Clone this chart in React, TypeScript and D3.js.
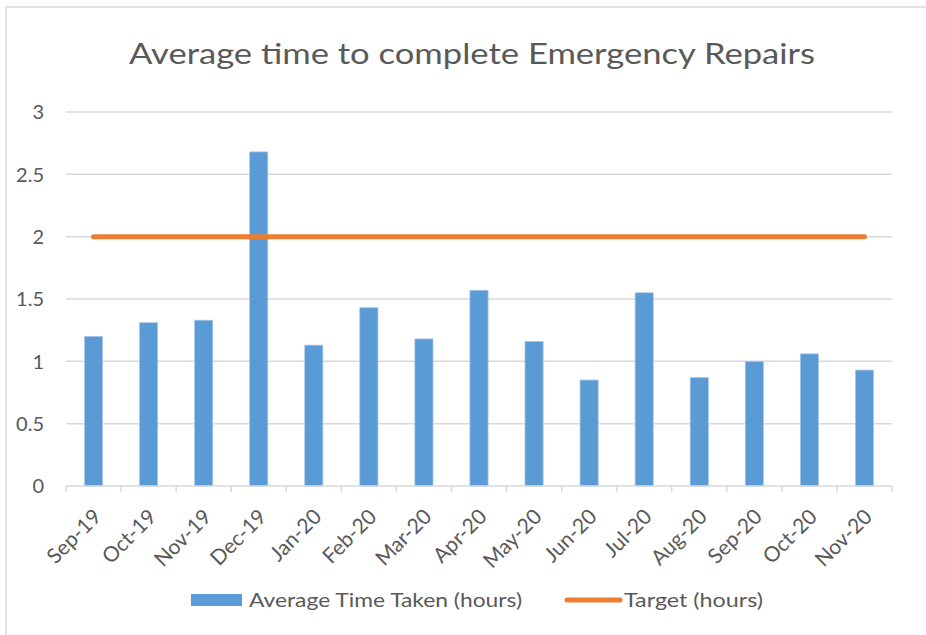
import React from "react";
import * as d3 from "d3";

const months = ["Sep-19","Oct-19","Nov-19","Dec-19","Jan-20","Feb-20","Mar-20","Apr-20","May-20","Jun-20","Jul-20","Aug-20","Sep-20","Oct-20","Nov-20"];
const avgTime = [1.2,1.31,1.33,2.68,1.13,1.43,1.18,1.57,1.16,0.85,1.55,0.87,1.0,1.06,0.93];
const target = [2,2,2,2,2,2,2,2,2,2,2,2,2,2,2];
const yTicks = [0,0.5,1,1.5,2,2.5,3];

const W = 926, H = 635;
const left = 66, right = 892, top = 112, bottom = 486;
const FONT = "Lato, 'Open Sans', sans-serif";
const TXT = "#595959";
const GRID = "#D9D9D9";

export default function App() {
  const x = d3.scaleBand<string>().domain(months).range([left, right]).paddingInner(0.67).paddingOuter(0.335);
  const xb = d3.scaleBand<string>().domain(months).range([left, right]);
  const y = d3.scaleLinear().domain([0, 3]).range([bottom, top]);
  const line = d3.line<number>()
    .x((_, i) => (xb(months[i]) as number) + xb.bandwidth() / 2)
    .y((d) => y(d));
  const ticksX = months.map((m) => xb(m) as number).concat([right]);

  return (
    <svg width={W} height={H} style={{ position: "absolute", left: 0, top: 0, background: "#fff" }}>
      <rect x={6} y={7} width={1000} height={1000} fill="#fff" stroke={GRID} strokeWidth={1.5} />
      <text x={472} y={64} textAnchor="middle" fontFamily={FONT} fontSize={29} fill={TXT} textLength={686} lengthAdjust="spacingAndGlyphs">
        Average time to complete Emergency Repairs
      </text>
      {yTicks.map((t) => (
        <g key={t}>
          {t > 0 && <line x1={left} x2={right} y1={y(t)} y2={y(t)} stroke={GRID} strokeWidth={1.5} />}
          <text x={44} y={y(t)} dy="0.36em" textAnchor="end" fontFamily={FONT} fontSize={20} fill={TXT}>{t}</text>
        </g>
      ))}
      {months.map((m, i) => (
        <rect key={m} x={x(m)} y={y(avgTime[i])} width={x.bandwidth()} height={y(0) - y(avgTime[i])} fill="#5B9BD5" stroke="#A9C8EA" strokeWidth={0.75} />
      ))}
      <line x1={left} x2={right} y1={bottom} y2={bottom} stroke={GRID} strokeWidth={1.5} />
      {ticksX.map((tx, i) => (
        <line key={i} x1={tx} x2={tx} y1={bottom} y2={bottom + 6} stroke={GRID} strokeWidth={1.5} />
      ))}
      <path d={line(target) as string} fill="none" stroke="#ED7D31" strokeWidth={5} strokeLinecap="round" />
      {months.map((m) => {
        const cx = (xb(m) as number) + xb.bandwidth() / 2 + 9;
        const cy = 518;
        return (
          <text key={m} x={cx} y={cy} transform={`rotate(-45 ${cx} ${cy})`} textAnchor="end" fontFamily={FONT} fontSize={21} fill={TXT}>{m}</text>
        );
      })}
      <rect x={191} y={594} width={51} height={12} fill="#5B9BD5" />
      <text x={249} y={600} dy="0.36em" fontFamily={FONT} fontSize={19} fill={TXT} textLength={273} lengthAdjust="spacingAndGlyphs">Average Time Taken (hours)</text>
      <line x1={567} x2={620} y1={600} y2={600} stroke="#ED7D31" strokeWidth={5} strokeLinecap="round" />
      <text x={624} y={600} dy="0.36em" fontFamily={FONT} fontSize={19} fill={TXT} textLength={139} lengthAdjust="spacingAndGlyphs">Target (hours)</text>
    </svg>
  );
}
